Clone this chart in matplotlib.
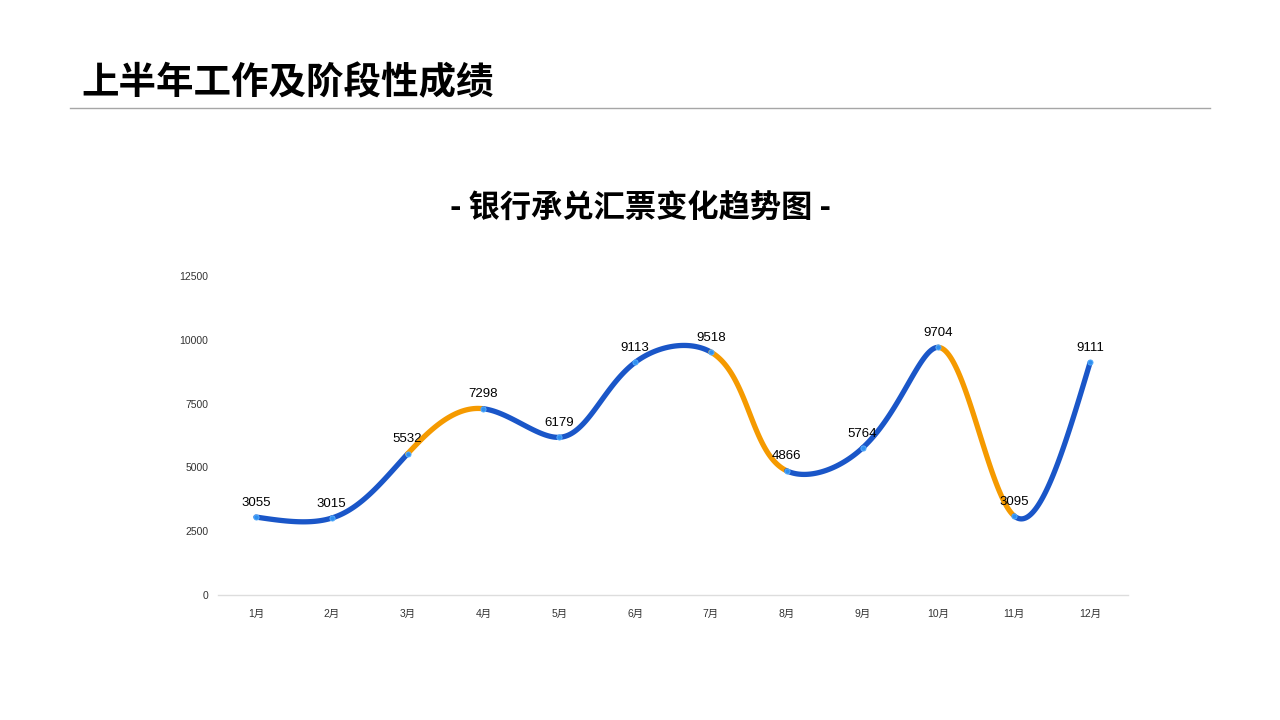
import numpy as np
import matplotlib
matplotlib.use("Agg")
import matplotlib.pyplot as plt
from matplotlib.lines import Line2D

plt.rcParams['font.family'] = ['Noto Sans CJK SC', 'DejaVu Sans']

months = ['1月', '2月', '3月', '4月', '5月', '6月', '7月', '8月', '9月', '10月', '11月', '12月']
values = [3055, 3015, 5532, 7298, 6179, 9113, 9518, 4866, 5764, 9704, 3095, 9111]
# segments drawn in orange (index of the starting month)
highlight = [2, 6, 9]
yticks = [0, 2500, 5000, 7500, 10000, 12500]

BLUE = '#1a56c8'
ORANGE = '#f59a00'
NUM_FONT = ['Liberation Sans', 'Noto Sans CJK SC']

W, H = 1280, 720
AX_L, AX_R, AX_B, AX_T = 218, 1128, 595, 276


def natural_coeffs(t, y):
    k = len(t)
    h = np.diff(t)
    A = np.zeros((k, k))
    b = np.zeros(k)
    A[0, 0] = A[-1, -1] = 1
    for i in range(1, k - 1):
        A[i, i - 1] = h[i - 1]
        A[i, i] = 2 * (h[i - 1] + h[i])
        A[i, i + 1] = h[i]
        b[i] = 6 * ((y[i + 1] - y[i]) / h[i] - (y[i] - y[i - 1]) / h[i - 1])
    return np.linalg.solve(A, b)


def eval_piece(t, y, m, i, tt):
    h = t[i + 1] - t[i]
    a = t[i + 1] - tt
    c = tt - t[i]
    return (m[i] * a ** 3 + m[i + 1] * c ** 3) / (6 * h) \
        + (y[i] / h - m[i] * h / 6) * a + (y[i + 1] / h - m[i + 1] * h / 6) * c


def smooth_segments(xs, ys, xscale, yscale, n=60):
    # parametric cubic spline (chord length, screen space) for the smooth line
    px = np.asarray(xs, float) * xscale
    py = np.asarray(ys, float) * yscale
    t = np.concatenate([[0], np.cumsum(np.hypot(np.diff(px), np.diff(py)))])
    mx = natural_coeffs(t, px)
    my = natural_coeffs(t, py)
    segs = []
    for i in range(len(t) - 1):
        tt = np.linspace(t[i], t[i + 1], n)
        segs.append((eval_piece(t, px, mx, i, tt) / xscale,
                     eval_piece(t, py, my, i, tt) / yscale))
    return segs


fig = plt.figure(figsize=(12.8, 7.2), dpi=100)

# page header
fig.text(81 / W, 1 - 83 / H, '上半年工作及阶段性成绩', fontsize=27,
         fontweight='bold', ha='left', va='center', color='#000000')
fig.add_artist(Line2D([70 / W, 1210 / W], [1 - 108 / H] * 2,
                      color='#a6a6a6', lw=1))
fig.text(640 / W, 1 - 209 / H, '- 银行承兑汇票变化趋势图 -', fontsize=22.5,
         fontweight='bold', ha='center', va='center', color='#000000')

ax = fig.add_axes([AX_L / W, 1 - AX_B / H, (AX_R - AX_L) / W, (AX_B - AX_T) / H])
x = np.arange(len(months))

xscale = (AX_R - AX_L) / len(months)
yscale = (AX_B - AX_T) / yticks[-1]
for i, (sx, sy) in enumerate(smooth_segments(x, values, xscale, yscale)):
    col = ORANGE if i in highlight else BLUE
    ax.plot(sx, sy, color=col, lw=3.8, solid_capstyle='round', zorder=2)

ax.scatter(x, values, s=14, color='#2f8ff0', edgecolors='#5fb4ff',
           linewidths=0.6, zorder=3)

for xi, v in zip(x, values):
    ax.annotate(str(v), (xi, v), xytext=(0, 6), textcoords='offset points',
                ha='center', va='bottom', fontsize=9.5, color='#000000',
                family=NUM_FONT)

ax.set_xlim(-0.5, len(months) - 0.5)
ax.set_ylim(0, yticks[-1])
ax.set_xticks(x)
ax.set_xticklabels(months, fontsize=7.5, color='#333333', family=NUM_FONT)
ax.set_yticks(yticks)
ax.set_yticklabels([str(v) for v in yticks], fontsize=7.5, color='#333333',
                   family=NUM_FONT)
ax.tick_params(axis='both', length=0)
ax.tick_params(axis='x', pad=10)
ax.tick_params(axis='y', pad=7)
for side in ['top', 'right', 'left']:
    ax.spines[side].set_visible(False)
ax.spines['bottom'].set_color('#dddddd')
ax.spines['bottom'].set_linewidth(1)

fig.savefig('out.png', dpi=100)
